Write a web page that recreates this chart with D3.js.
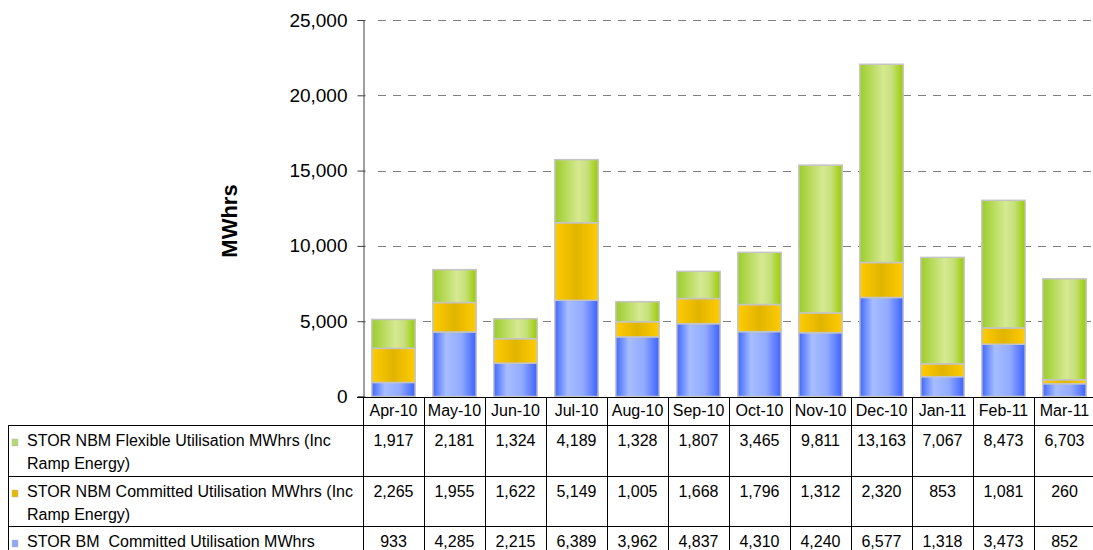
<!DOCTYPE html>
<html>
<head>
<meta charset="utf-8">
<script src="https://cdn.jsdelivr.net/npm/d3@7"></script>
<style>
  html, body { margin: 0; padding: 0; background: #fff; }
  svg { display: block; font-family: Arial, "Liberation Sans", sans-serif; }
</style>
</head>
<body>
<svg id="chart" width="1093" height="550"></svg>
<script>
const months = ["Apr-10","May-10","Jun-10","Jul-10","Aug-10","Sep-10","Oct-10","Nov-10","Dec-10","Jan-11","Feb-11","Mar-11"];
const bmCommitted = [933,4285,2215,6389,3962,4837,4310,4240,6577,1318,3473,852];
const nbmCommitted = [2265,1955,1622,5149,1005,1668,1796,1312,2320,853,1081,260];
const nbmFlexible = [1917,2181,1324,4189,1328,1807,3465,9811,13163,7067,8473,6703];
const yTicks = [0,5000,10000,15000,20000,25000];
const seriesKeys = ["bm","nbmc","nbmf"];
const seriesLabels = {
  nbmf: ["STOR NBM Flexible Utilisation MWhrs (Inc", "Ramp Energy)"],
  nbmc: ["STOR NBM Committed Utilisation MWhrs (Inc", "Ramp Energy)"],
  bm: ["STOR BM  Committed Utilisation MWhrs"]
};
const seriesValues = {bm: bmCommitted, nbmc: nbmCommitted, nbmf: nbmFlexible};
const tableOrder = ["nbmf","nbmc","bm"];

(function() {
const svg = d3.select("#chart");
const pLeft = 363, pRight = 1095, pTop = 20, pBottom = 397;

const x = d3.scaleBand().domain(months).range([pLeft, pRight]).paddingInner(0.29).paddingOuter(0.145);
const y = d3.scaleLinear().domain([0, 25000]).range([pBottom - 0.5, pTop]);

// gradients
const defs = svg.append("defs");
function grad(id, stops) {
  const g = defs.append("linearGradient").attr("id", id).attr("x1", 0).attr("x2", 1).attr("y1", 0).attr("y2", 0);
  stops.forEach(s => g.append("stop").attr("offset", s[0]).attr("stop-color", s[1]));
}
grad("g-bm", [[0,"#4068ff"],[0.3,"#a6bdff"],[0.65,"#92abff"],[1,"#3c62ff"]]);
grad("g-nbmc", [[0,"#ffcc00"],[0.5,"#e1b400"],[1,"#ffcc00"]]);
grad("g-nbmf", [[0,"#9ccd2a"],[0.55,"#d6e992"],[0.75,"#c6e07a"],[1,"#99cc00"]]);
const legendFill = {bm: "#8ea8f8", nbmc: "#e8b800", nbmf: "#b4d874"};

// gridlines
svg.append("g").selectAll("line").data(yTicks.filter(t => t > 0)).join("line")
  .attr("x1", pLeft + 15).attr("x2", 1093)
  .attr("y1", d => Math.round(y(d)) + 0.5).attr("y2", d => Math.round(y(d)) + 0.5)
  .attr("stroke", "#808080").attr("stroke-width", 1).attr("stroke-dasharray", "8,7");

// y axis
const yAxis = d3.axisLeft(y).tickValues(yTicks).tickSize(6).tickPadding(10)
  .tickFormat(d3.format(","));
const ya = svg.append("g").attr("transform", `translate(${pLeft + 0.5},0)`).call(yAxis);
ya.select(".domain").attr("stroke", "#404040");
ya.selectAll(".tick line").attr("stroke", "#404040").attr("x2", -6).attr("x1", 2);
ya.selectAll(".tick text").attr("font-size", 19).attr("fill", "#000")
  .attr("font-family", "Arial, 'Liberation Sans', sans-serif");

// y label
svg.append("text").attr("transform", "translate(237,221) rotate(-90)")
  .attr("text-anchor", "middle").attr("font-size", 22).attr("font-weight", "bold")
  .text("MWhrs");

// stacked bars
const rows = months.map((m, i) => ({month: m, bm: bmCommitted[i], nbmc: nbmCommitted[i], nbmf: nbmFlexible[i]}));
const stack = d3.stack().keys(seriesKeys)(rows);
svg.append("g").selectAll("g").data(stack).join("g")
  .attr("fill", d => `url(#g-${d.key})`)
  .selectAll("rect").data(d => d).join("rect")
  .attr("x", d => x(d.data.month))
  .attr("width", x.bandwidth())
  .attr("y", d => y(d[1]))
  .attr("height", d => y(d[0]) - y(d[1]))
  .attr("stroke", "#c4c4c4").attr("stroke-width", 1.5);

// x axis baseline
svg.append("line").attr("x1", pLeft - 6).attr("x2", 1093).attr("y1", pBottom + 0.5).attr("y2", pBottom + 0.5)
  .attr("stroke", "#000");

// data table
const rowTops = [425, 476, 526];
const tableBottom = 560;
const tbl = svg.append("g").attr("font-size", 16).attr("fill", "#000");
rowTops.forEach(t => {
  tbl.append("line").attr("x1", 8).attr("x2", 1093).attr("y1", t + 0.5).attr("y2", t + 0.5).attr("stroke", "#000");
});
tbl.append("line").attr("x1", 8.5).attr("x2", 8.5).attr("y1", rowTops[0]).attr("y2", tableBottom).attr("stroke", "#000");
const bounds = months.map(m => x(m) - x.step() * x.paddingInner() / 2);
tbl.selectAll("line.col").data(bounds).join("line").attr("class", "col")
  .attr("x1", d => Math.round(d) + 0.5).attr("x2", d => Math.round(d) + 0.5)
  .attr("y1", pBottom).attr("y2", tableBottom).attr("stroke", "#000");
tbl.selectAll("text.month").data(months).join("text").attr("class", "month")
  .attr("x", d => x(d) + x.bandwidth() / 2).attr("y", 416)
  .attr("text-anchor", "middle").text(d => d);
tableOrder.forEach((k, r) => {
  const t = rowTops[r];
  tbl.append("rect").attr("x", 12).attr("y", t + 14).attr("width", 6).attr("height", 7)
    .attr("fill", legendFill[k]).attr("stroke", "#bbb").attr("stroke-width", 0.5);
  seriesLabels[k].forEach((line, li) => {
    tbl.append("text").attr("x", 27).attr("y", t + 21 + li * 23)
      .style("white-space", "pre").text(line);
  });
  tbl.selectAll(null).data(seriesValues[k]).join("text")
    .attr("x", (d, i) => x(months[i]) + x.bandwidth() / 2).attr("y", t + 21)
    .attr("text-anchor", "middle").text(d => d3.format(",")(d));
});
})();
</script>
</body>
</html>
